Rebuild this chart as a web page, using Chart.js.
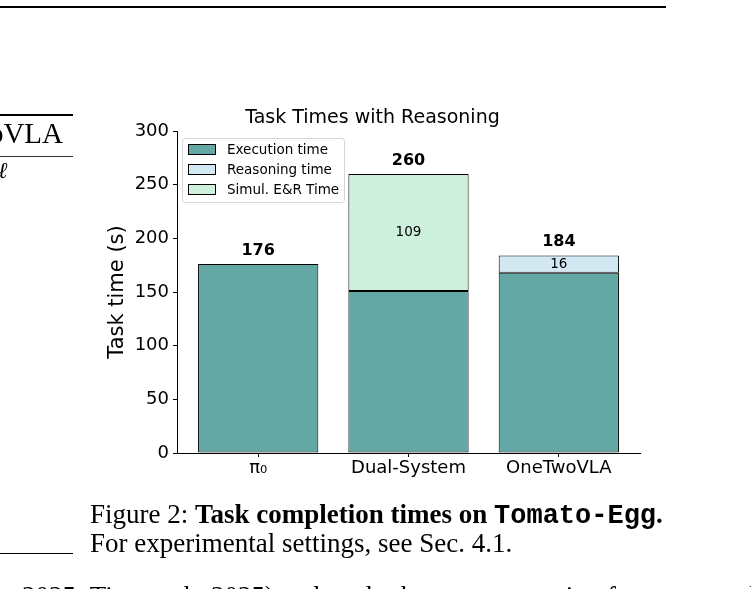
<!DOCTYPE html>
<html>
<head>
<meta charset="utf-8">
<script src="https://cdn.jsdelivr.net/npm/chart.js@4.4.1/dist/chart.umd.min.js"></script>
<style>
  html, body { margin: 0; padding: 0; background: #fff; overflow: hidden; }
  #wrap { position: relative; width: 751px; height: 589px; overflow: hidden; }
  #chart { position: absolute; left: 0; top: 0; }
  .paper { position: absolute; font-family: "Liberation Serif", "DejaVu Serif", serif; color: #000; white-space: nowrap; line-height: 1.15; }
  .rule { position: absolute; background: #000; }
  .mono { font-family: "Liberation Mono", "DejaVu Sans Mono", monospace; }
</style>
</head>
<body>
<div id="wrap">
  <canvas id="chart" width="751" height="589"></canvas>

  <!-- bits of the surrounding page -->
  <div class="rule" style="left:0; top:6px; width:666px; height:2px;"></div>
  <div class="rule" style="left:0; top:114px; width:73px; height:2px;"></div>
  <div class="paper" style="right:688px; top:117px; font-size:29px;">OneTwoVLA</div>
  <div class="rule" style="left:0; top:156px; width:73px; height:1px; background:#333;"></div>
  <div class="paper" style="left:-2px; top:158px; font-size:23px; font-style:italic;">ℓ</div>

  <div class="paper" style="left:90px; top:499px; font-size:27px;">Figure 2: <b>Task completion times on <span class="mono">Tomato-Egg</span>.</b></div>
  <div class="paper" style="left:90px; top:528px; font-size:27px;">For experimental settings, see Sec. 4.1.</div>
  <div class="rule" style="left:0; top:553px; width:73px; height:1px;"></div>
  <div class="paper" style="left:22px; top:581px; font-size:27px;">2025; Tian et al., 2025) and apply the same reasoning format to each</div>
</div>

<script>
  // chart values
  const categories = ['π₀', 'Dual-System', 'OneTwoVLA'];
  const executionTime = [176, 151, 168];
  const reasoningTime = [null, null, 16];
  const simulTime = [null, 109, null];
  const totals = [176, 260, 184];

  const FONT = "'DejaVu Sans', sans-serif";

  function points(values) {
    return values.map(function (v, i) { return { x: i, y: v }; });
  }

  // totals above bars + values inside the upper segments
  const barLabels = {
    id: 'barLabels',
    afterDatasetsDraw(chart) {
      const ctx = chart.ctx;
      const y = chart.scales.y;
      ctx.save();
      ctx.textAlign = 'center';
      ctx.textBaseline = 'middle';
      ctx.fillStyle = '#000';
      chart.getDatasetMeta(0).data.forEach(function (bar, i) {
        ctx.font = 'bold 16px ' + FONT;
        ctx.fillText(String(totals[i]), bar.x, y.getPixelForValue(totals[i]) - 13.5);
      });
      [1, 2].forEach(function (di) {
        const ds = chart.data.datasets[di];
        chart.getDatasetMeta(di).data.forEach(function (bar, i) {
          const v = ds.data[i].y;
          if (v == null) return;
          ctx.font = '13.5px ' + FONT;
          ctx.fillText(String(v), bar.x, (bar.y + bar.base) / 2);
        });
      });
      ctx.restore();
    }
  };

  // legend box in the upper-left corner of the plot
  const boxLegend = {
    id: 'boxLegend',
    afterDatasetsDraw(chart) {
      const ctx = chart.ctx;
      const a = chart.chartArea;
      const x0 = a.left + 5, y0 = a.top + 7;
      const w = 162, h = 64;
      ctx.save();
      ctx.fillStyle = 'rgba(255,255,255,0.8)';
      ctx.strokeStyle = '#d6d6d6';
      ctx.lineWidth = 1;
      ctx.beginPath();
      ctx.roundRect(x0 + 0.5, y0 + 0.5, w, h, 3);
      ctx.fill();
      ctx.stroke();
      ctx.font = '13.5px ' + FONT;
      ctx.textBaseline = 'middle';
      chart.data.datasets.forEach(function (ds, i) {
        const ry = y0 + 11 + i * 20;
        ctx.fillStyle = ds.backgroundColor;
        ctx.fillRect(x0 + 6.5, ry - 4.5, 27, 10);
        ctx.strokeStyle = '#000';
        ctx.strokeRect(x0 + 6.5, ry - 4.5, 27, 10);
        ctx.fillStyle = '#000';
        ctx.fillText(ds.label, x0 + 45, ry + 1);
      });
      ctx.restore();
    }
  };

  new Chart(document.getElementById('chart'), {
    type: 'bar',
    data: {
      datasets: [
        { label: 'Execution time', data: points(executionTime), backgroundColor: '#63a8a5', borderColor: '#000', borderWidth: 1, borderSkipped: false },
        { label: 'Reasoning time', data: points(reasoningTime), backgroundColor: '#d2e9f3', borderColor: '#000', borderWidth: 1, borderSkipped: false },
        { label: 'Simul. E&R Time', data: points(simulTime), backgroundColor: '#cdf1dc', borderColor: '#000', borderWidth: 1, borderSkipped: false }
      ]
    },
    options: {
      responsive: false,
      animation: false,
      parsing: false,
      layout: { padding: { left: 105, right: 111, top: 108.5, bottom: 106 } },
      datasets: { bar: { barPercentage: 0.8, categoryPercentage: 1.0 } },
      plugins: {
        legend: { display: false },
        tooltip: { enabled: false },
        title: {
          display: true,
          text: 'Task Times with Reasoning',
          color: '#000',
          font: { family: FONT, size: 19, weight: 'normal', lineHeight: 1 },
          padding: { top: 0, bottom: 3.5 }
        }
      },
      scales: {
        x: {
          type: 'linear',
          stacked: true,
          offset: false,
          min: -0.54,
          max: 2.54,
          afterBuildTicks(s) { s.ticks = categories.map(function (c, i) { return { value: i }; }); },
          grid: { display: true, offset: false, drawOnChartArea: false, drawTicks: true, tickLength: 4, color: '#000' },
          border: { color: '#000', width: 1 },
          ticks: {
            color: '#000', padding: 1, maxRotation: 0, autoSkip: false,
            font: { family: FONT, size: 18 },
            callback: function (v) { return categories[Math.round(v)]; }
          },
          afterFit(s) { s.height = 30; }
        },
        y: {
          stacked: true,
          min: 0,
          max: 300,
          grid: { display: true, drawOnChartArea: false, drawTicks: true, tickLength: 4, color: '#000' },
          border: { color: '#000', width: 1 },
          ticks: { stepSize: 50, color: '#000', padding: 4, font: { family: FONT, size: 18 } },
          title: { display: true, text: 'Task time (s)', color: '#000', padding: 0, font: { family: FONT, size: 21 } },
          afterFit(s) { s.width = 72; }
        }
      }
    },
    plugins: [barLabels, boxLegend]
  });
</script>
</body>
</html>
